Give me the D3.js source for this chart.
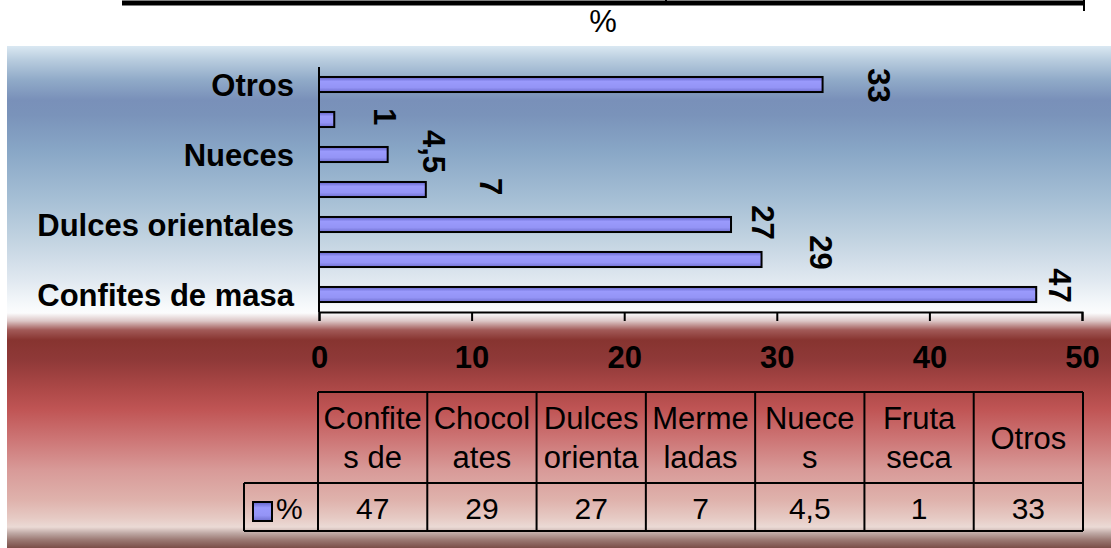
<!DOCTYPE html>
<html>
<head>
<meta charset="utf-8">
<script src="https://cdn.jsdelivr.net/npm/d3@7/dist/d3.min.js"></script>
<style>
  html, body { margin: 0; padding: 0; background: #ffffff; }
  svg { display: block; }
  text { font-family: "Liberation Sans", Arial, sans-serif; fill: #000; }
</style>
</head>
<body>
<svg id="chart" width="1111" height="548"></svg>
<script>
// ---------- data ----------
const categories = ["Confites de masa", "Chocolates", "Dulces orientales", "Mermeladas", "Nueces", "Fruta seca", "Otros"];
const values = [47, 29, 27, 7, 4.5, 1, 33];
const valueLabels = ["47", "29", "27", "7", "4,5", "1", "33"];
const axisLabelShown = [true, false, true, false, true, false, true];
const headerLines = [["Confite", "s de"], ["Chocol", "ates"], ["Dulces", "orienta"], ["Merme", "ladas"], ["Nuece", "s"], ["Fruta", "seca"], ["Otros"]];
const xTicks = [0, 10, 20, 30, 40, 50];
const seriesName = "%";
const chartTitle = "%";

// ---------- layout ----------
const W = 1111, H = 548;
const plot = { left: 319, right: 1082, top: 67, bottom: 312 };
const labelDx = [24, 60, 32, 65, 47, 51, 57];
const labelDy = [-9, -7, -2, -3, -3, -3, 1];

const svg = d3.select("#chart");
const defs = svg.append("defs");

// background gradient
const bgStops = [
  [46, "#dae8f2"], [60, "#b8ccde"], [80, "#90aac8"], [100, "#7990b9"], [115, "#7a93ba"],
  [150, "#88a6c6"], [200, "#a6bfd5"], [240, "#c2d3e1"], [280, "#e0e8f0"], [305, "#f6f9fb"],
  [313, "#fbfcfd"], [321, "#dcc6c6"], [330, "#a25a58"], [340, "#873430"], [360, "#8f3938"],
  [390, "#ae4948"], [410, "#c05555"], [440, "#cd7676"], [470, "#d89a98"], [500, "#dfb2ac"],
  [518, "#e6cac4"], [527, "#ebdad5"], [533, "#c0aaa6"], [540, "#9a7872"], [548, "#7a4e48"]
];
const bg = defs.append("linearGradient").attr("id", "bg")
  .attr("gradientUnits", "userSpaceOnUse").attr("x1", 0).attr("y1", 46).attr("x2", 0).attr("y2", 548);
bgStops.forEach(([yy, c]) => bg.append("stop").attr("offset", (yy - 46) / (548 - 46)).attr("stop-color", c));

const barGrad = defs.append("linearGradient").attr("id", "barg").attr("x1", 0).attr("y1", 0).attr("x2", 0).attr("y2", 1);
[[0, "#6262c8"], [0.3, "#9a9afc"], [0.7, "#9494f6"], [1, "#7070d0"]].forEach(([o, c]) =>
  barGrad.append("stop").attr("offset", o).attr("stop-color", c));

svg.append("rect").attr("x", 7).attr("y", 46).attr("width", W - 7).attr("height", H - 46).attr("fill", "url(#bg)");

// top residual line from previous element
svg.append("line").attr("x1", 122).attr("x2", 1085).attr("y1", 3).attr("y2", 3)
  .attr("stroke", "#000").attr("stroke-width", 5);
svg.append("line").attr("x1", 666).attr("x2", 666).attr("y1", 0).attr("y2", 5).attr("stroke", "#000").attr("stroke-width", 2);
svg.append("line").attr("x1", 1084).attr("x2", 1084).attr("y1", 0).attr("y2", 11).attr("stroke", "#000").attr("stroke-width", 2);

// title
svg.append("text").attr("x", 603).attr("y", 32).attr("text-anchor", "middle")
  .style("font-size", "31px").text(chartTitle);

// scales
const x = d3.scaleLinear().domain([xTicks[0], xTicks[xTicks.length - 1]]).range([plot.left, plot.right]);
const y = d3.scaleBand().domain(categories).range([plot.bottom, plot.top]).paddingInner(0.57).paddingOuter(0.285);

// bars
svg.append("g").selectAll("rect").data(categories).join("rect")
  .attr("x", x(0))
  .attr("y", d => y(d))
  .attr("width", (d, i) => x(values[i]) - x(0))
  .attr("height", y.bandwidth())
  .attr("fill", "url(#barg)")
  .attr("stroke", "#000").attr("stroke-width", 2);

// y axis line
svg.append("line").attr("x1", plot.left).attr("x2", plot.left).attr("y1", plot.top).attr("y2", plot.bottom)
  .attr("stroke", "#000").attr("stroke-width", 2);

// category labels
svg.append("g").selectAll("text").data(categories.filter((d, i) => axisLabelShown[i])).join("text")
  .attr("x", 294)
  .attr("y", d => y(d) + y.bandwidth() / 2)
  .attr("dy", "0.36em")
  .attr("text-anchor", "end")
  .style("font-size", "31px").style("font-weight", "bold")
  .text(d => d);

// x axis
const xAxis = svg.append("g").attr("transform", `translate(0,${plot.bottom})`)
  .call(d3.axisBottom(x).tickValues(xTicks).tickSize(9).tickSizeOuter(9).tickFormat(d3.format("d")));
xAxis.select(".domain").attr("stroke", "#000").attr("stroke-width", 2);
xAxis.selectAll(".tick line").attr("stroke", "#000").attr("stroke-width", 2);
xAxis.selectAll(".tick text")
  .attr("y", 45).attr("dy", "0.36em")
  .style("font-family", "'Liberation Sans', Arial, sans-serif")
  .style("font-size", "31px").style("font-weight", "bold").attr("fill", "#000");

// data labels (rotated)
svg.append("g").selectAll("text").data(categories).join("text")
  .attr("transform", (d, i) => `translate(${x(values[i]) + labelDx[i]},${y(d) + y.bandwidth() / 2 + labelDy[i]}) rotate(90)`)
  .attr("text-anchor", "middle").attr("dy", "0.36em")
  .style("font-size", "31px").style("font-weight", "bold")
  .text((d, i) => valueLabels[i]);

// data table
const tbl = { left: 318, right: 1083, top: 392, mid: 483, bottom: 531, legendLeft: 244 };
const colW = (tbl.right - tbl.left) / categories.length;
const tg = svg.append("g");
const lineAttr = sel => sel.attr("stroke", "#000").attr("stroke-width", 2);

tg.append("line").attr("x1", tbl.left).attr("x2", tbl.right).attr("y1", tbl.top).attr("y2", tbl.top).call(lineAttr);
tg.append("line").attr("x1", tbl.legendLeft).attr("x2", tbl.right).attr("y1", tbl.mid).attr("y2", tbl.mid).call(lineAttr);
tg.append("line").attr("x1", tbl.legendLeft).attr("x2", tbl.right).attr("y1", tbl.bottom).attr("y2", tbl.bottom).call(lineAttr);
tg.append("line").attr("x1", tbl.legendLeft).attr("x2", tbl.legendLeft).attr("y1", tbl.mid).attr("y2", tbl.bottom).call(lineAttr);
d3.range(categories.length + 1).forEach(i => {
  const xx = tbl.left + i * colW;
  tg.append("line").attr("x1", xx).attr("x2", xx).attr("y1", tbl.top).attr("y2", tbl.bottom).call(lineAttr);
});

const hCy = (tbl.top + tbl.mid) / 2;
categories.forEach((c, i) => {
  const lines = headerLines[i];
  const cx = tbl.left + (i + 0.5) * colW;
  lines.forEach((ln, j) => {
    tg.append("text").attr("x", cx)
      .attr("y", hCy + (j - (lines.length - 1) / 2) * 39 + 11)
      .attr("text-anchor", "middle").style("font-size", "31px").text(ln);
  });
  tg.append("text").attr("x", cx).attr("y", 519).attr("text-anchor", "middle")
    .style("font-size", "30px").text(valueLabels[i]);
});

// legend cell
tg.append("rect").attr("x", 253).attr("y", 502).attr("width", 19).attr("height", 19)
  .attr("fill", "url(#barg)").attr("stroke", "#000").attr("stroke-width", 2);
tg.append("text").attr("x", 276).attr("y", 519).style("font-size", "30px").text(seriesName);
</script>
</body>
</html>
